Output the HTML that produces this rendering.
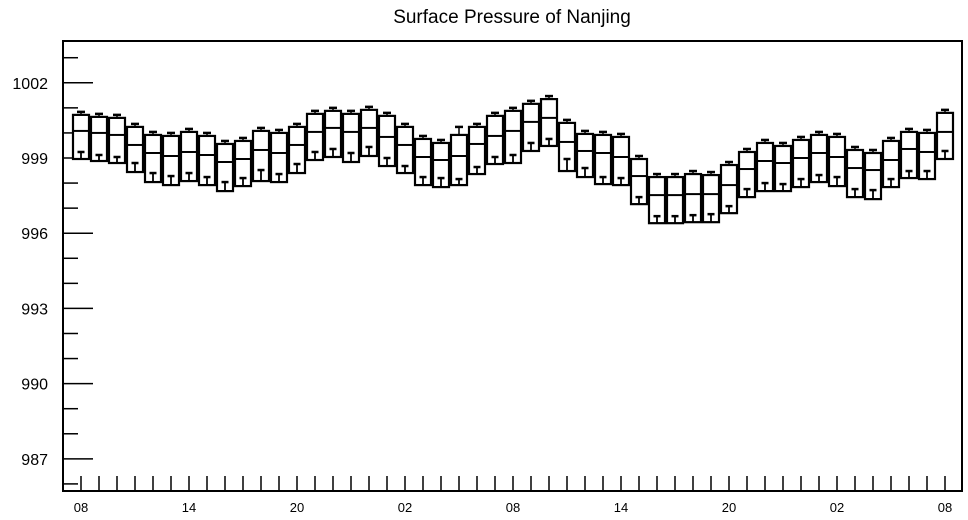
<!DOCTYPE html>
<html><head><meta charset="utf-8"><style>
html,body{margin:0;padding:0;background:#fff;}
svg{display:block;font-family:"Liberation Sans",Arial,sans-serif;}
</style></head><body>
<svg id="chart" width="968" height="520" viewBox="0 0 968 520">
<text x="512" y="23" text-anchor="middle" font-size="19">Surface Pressure of Nanjing</text>
<rect x="63" y="41" width="899" height="450" fill="none" stroke="#000" stroke-width="2"/>
<g id="axes"></g>
<g id="boxes"></g>
</svg>
<script>
const hourLabels = ["08","14","20","02","08","14","20","02","08"];
const yTicks = [987, 990, 993, 996, 999, 1002];
const q3 = [1000.72,1000.64,1000.60,1000.24,999.92,999.88,1000.04,999.88,999.56,999.68,1000.08,1000.00,1000.24,1000.76,1000.88,1000.76,1000.92,1000.68,1000.24,999.76,999.60,999.92,1000.24,1000.68,1000.88,1001.16,1001.35,1000.40,999.96,999.92,999.84,998.96,998.24,998.24,998.36,998.32,998.72,999.24,999.60,999.48,999.72,999.92,999.84,999.32,999.20,999.68,1000.04,1000.00,1000.80];
const medians = [1000.08,1000.00,999.92,999.52,999.20,999.08,999.24,999.12,998.84,998.96,999.32,999.20,999.52,1000.04,1000.20,1000.04,1000.20,999.84,999.52,999.04,998.92,999.08,999.56,999.88,1000.08,1000.44,1000.60,999.64,999.28,999.20,999.04,998.28,997.52,997.52,997.56,997.56,997.92,998.56,998.88,998.80,999.00,999.20,999.04,998.60,998.52,998.92,999.36,999.24,1000.04];
const q1 = [998.96,998.88,998.80,998.44,998.04,997.92,998.08,997.92,997.68,997.88,998.08,998.04,998.40,998.92,999.04,998.84,999.08,998.68,998.40,997.92,997.84,997.92,998.36,998.76,998.80,999.28,999.48,998.48,998.24,997.96,997.92,997.16,996.40,996.40,996.44,996.44,996.80,997.44,997.68,997.68,997.84,998.04,997.88,997.44,997.36,997.84,998.20,998.16,998.96];
const lowMarks = [999.24,999.12,999.04,998.80,998.40,998.28,998.40,998.24,998.04,998.20,998.52,998.36,998.76,999.24,999.36,999.20,999.44,999.00,998.68,998.24,998.20,998.16,998.64,999.04,999.12,999.60,999.76,998.96,998.60,998.24,998.20,997.44,996.68,996.68,996.72,996.76,997.08,997.76,998.00,997.96,998.16,998.32,998.24,997.76,997.72,998.16,998.48,998.48,999.28];
const maxVals = [1000.84,1000.76,1000.72,1000.36,1000.04,1000.00,1000.16,1000.00,999.68,999.80,1000.20,1000.12,1000.36,1000.88,1001.00,1000.88,1001.04,1000.80,1000.36,999.88,999.72,1000.24,1000.36,1000.80,1001.00,1001.28,1001.47,1000.52,1000.08,1000.04,999.96,999.08,998.36,998.36,998.48,998.44,998.84,999.36,999.72,999.60,999.84,1000.04,999.96,999.44,999.32,999.80,1000.16,1000.12,1000.92];

const NS = "http://www.w3.org/2000/svg";
const yScale = v => 158 - (v - 999) * 25.07;
const xScale = i => 81 + i * 18;
function mk(tag, attrs, parent){ const e=document.createElementNS(NS,tag); for(const k in attrs) e.setAttribute(k,attrs[k]); parent.appendChild(e); return e; }
const axes = document.getElementById('axes');
const boxes = document.getElementById('boxes');

for (let v = 986; v <= 1003; v++) {
  const major = yTicks.includes(v);
  const t = mk('line',{x1:63,x2:major?93:78,y1:yScale(v),y2:yScale(v),stroke:'#000','stroke-width':1.5},axes);
  
  
}
yTicks.forEach(v => {
  const t = mk('text',{x:48,y:yScale(v)+6,'text-anchor':'end','font-size':16},axes);
  t.textContent = v;
  
  
});
for (let i = 0; i < q3.length; i++) {
  const t = mk('line',{x1:xScale(i),x2:xScale(i),y1:476,y2:491,stroke:'#000','stroke-width':1.5},axes);
  
  
}
hourLabels.forEach((lab, k) => {
  const t = mk('text',{x:xScale(k*6),y:512,'text-anchor':'middle','font-size':13},axes);
  t.textContent = lab;
  
  
});

for (let i = 0; i < q3.length; i++) {
  const cx = xScale(i);
  const g = mk('g',{},boxes);
  
  
  const yT = yScale(q3[i]), yB = yScale(q1[i]), yM = yScale(medians[i]), yL = yScale(lowMarks[i]), yX = yScale(maxVals[i]);
  mk('line',{x1:cx,x2:cx,y1:yX,y2:yT,stroke:'#000','stroke-width':1.5},g);
  mk('line',{x1:cx-4,x2:cx+4,y1:yX,y2:yX,stroke:'#000','stroke-width':2.5},g);
  mk('rect',{x:cx-8,y:yT,width:16,height:yB-yT,fill:'#fff',stroke:'#000','stroke-width':2.2},g);
  mk('line',{x1:cx-8,x2:cx+8,y1:yM,y2:yM,stroke:'#000','stroke-width':2},g);
  mk('line',{x1:cx,x2:cx,y1:yL,y2:yB,stroke:'#000','stroke-width':1.8},g);
  mk('line',{x1:cx-3.5,x2:cx+3.5,y1:yL,y2:yL,stroke:'#000','stroke-width':2.5},g);
}
</script>
</body></html>
